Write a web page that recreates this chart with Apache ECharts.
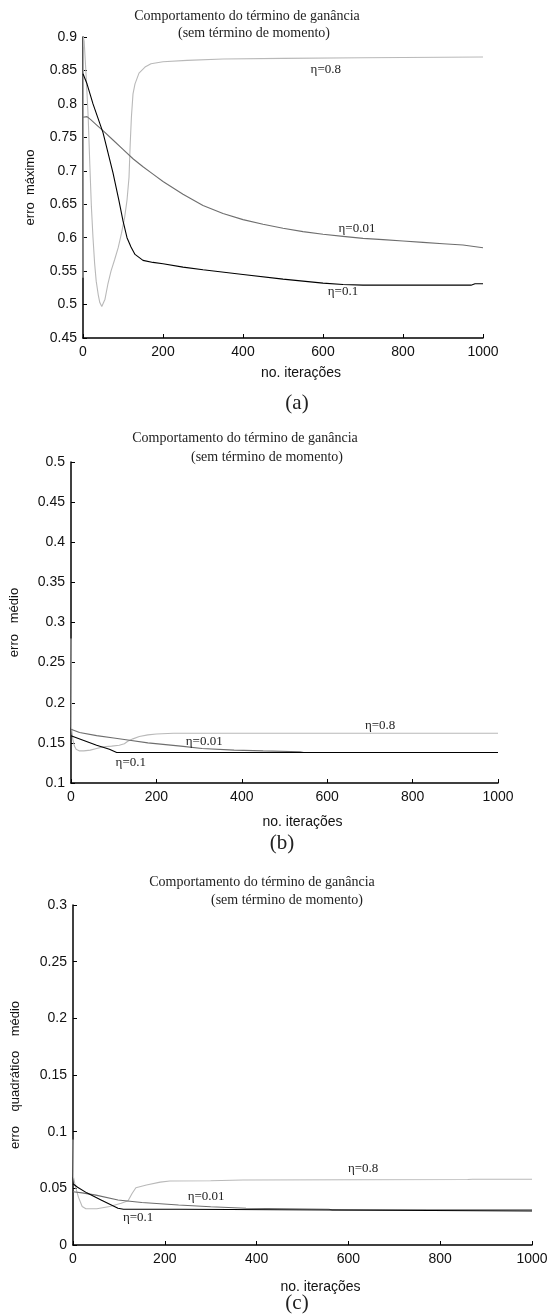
<!DOCTYPE html>
<html>
<head>
<meta charset="utf-8">
<script src="https://cdn.jsdelivr.net/npm/echarts@6/dist/echarts.min.js"></script>
<style>
  html, body { margin: 0; padding: 0; background: #fff; }
  #grafico { width: 560px; height: 1315px; }
</style>
</head>
<body>
<div id="grafico"></div>
<script>
// (a) erro maximo
const a_eta08 = [[0,0.54],[1,0.9],[3,0.893],[8,0.84],[13,0.78],[17,0.71],[21,0.646],[25,0.6],[29,0.562],[33,0.535],[38,0.515],[42,0.503],[47,0.497],[51,0.499],[55,0.508],[62,0.53],[70,0.55],[79,0.567],[88,0.585],[96,0.606],[104,0.63],[110,0.656],[115,0.69],[118,0.74],[121,0.78],[125,0.815],[130,0.83],[140,0.846],[155,0.855],[170,0.86],[200,0.863],[260,0.865],[350,0.867],[500,0.868],[700,0.869],[1000,0.87]]
const a_eta01 = [[0,0.845],[10,0.83],[25,0.8],[50,0.757],[75,0.697],[90,0.655],[100,0.625],[110,0.6],[120,0.586],[130,0.575],[150,0.566],[175,0.563],[200,0.561],[250,0.556],[300,0.552],[400,0.545],[500,0.538],[600,0.532],[650,0.53],[700,0.529],[800,0.529],[900,0.529],[970,0.529],[980,0.531],[1000,0.531]]
const a_eta001 = [[0,0.78],[5,0.782],[10,0.781],[20,0.776],[35,0.768],[50,0.76],[75,0.746],[100,0.732],[125,0.718],[150,0.706],[175,0.695],[200,0.684],[250,0.665],[300,0.648],[350,0.636],[400,0.627],[450,0.62],[500,0.614],[550,0.609],[600,0.605],[650,0.602],[700,0.599],[750,0.597],[800,0.595],[850,0.593],[900,0.591],[950,0.589],[1000,0.585]]

// (b) erro medio
const b_eta08 = [[0,0.28],[1,0.17],[4,0.155],[8,0.146],[12,0.142],[20,0.14],[30,0.14],[45,0.141],[60,0.143],[75,0.145],[95,0.146],[113,0.147],[125,0.149],[133,0.152],[145,0.155],[160,0.158],[180,0.16],[200,0.161],[240,0.162],[1000,0.162]]
const b_eta01 = [[0,0.159],[30,0.153],[60,0.147],[90,0.142],[107,0.138],[1000,0.138]]
const b_eta001 = [[0,0.167],[20,0.163],[60,0.159],[100,0.156],[133,0.1535],[180,0.15],[257,0.146],[307,0.143],[382,0.141],[450,0.14],[536,0.139],[545,0.138],[1000,0.138]]

// (c) erro quadratico medio
const c_eta08 = [[0,0.093],[1,0.06],[5,0.052],[12,0.042],[20,0.034],[28,0.032],[52,0.032],[80,0.034],[105,0.0368],[120,0.039],[129,0.0456],[137,0.0505],[160,0.053],[190,0.0555],[211,0.0565],[300,0.0567],[370,0.0574],[860,0.0578],[870,0.058],[1000,0.058]]
const c_eta01 = [[0,0.054],[10,0.051],[30,0.046],[60,0.04],[98,0.0324],[110,0.0315],[232,0.0315],[235,0.03],[1000,0.03]]
const c_eta001 = [[0,0.047],[20,0.046],[50,0.044],[98,0.0397],[150,0.0375],[230,0.0353],[300,0.0338],[377,0.0324],[557,0.0315],[565,0.031],[1000,0.031]]

// limites dos eixos y: [min, max, intervalo]
const yLimA = [0.45, 0.9, 0.05]
const yLimB = [0.1, 0.5, 0.05]
const yLimC = [0, 0.3, 0.05]
const xLim = [0, 1000, 200]

// rotulos das curvas (posicao em coordenadas dos dados)
const rotulosA = { '0.8': [607, 0.851], '0.01': [685, 0.613], '0.1': [650, 0.52] }
const rotulosB = { '0.8': [724, 0.171], '0.01': [312, 0.151], '0.1': [140, 0.125] }
const rotulosC = { '0.8': [632, 0.067], '0.01': [290, 0.0424], '0.1': [142, 0.0238] }

const sans = 'Liberation Sans'
const serif = 'Liberation Serif'
const cores = { '0.8': '#b9b9b9', '0.01': '#6e6e6e', '0.1': '#000' }

const myChart = echarts.init(document.getElementById('grafico'))

function eixoX(gi, gap) {
	return {
		type: 'value', gridIndex: gi, min: xLim[0], max: xLim[1], interval: xLim[2],
		axisLine: { lineStyle: { color: '#000', width: 1.5 } },
		axisTick: { inside: true, length: 4, lineStyle: { color: '#000' } },
		axisLabel: {
			color: '#111', fontSize: 14, fontFamily: sans, margin: 7,
			formatter: (v) => String(v)
		},
		splitLine: { show: false },
		name: 'no. iterações', nameLocation: 'middle', nameGap: gap,
		nameTextStyle: { color: '#111', fontSize: 14, fontFamily: sans, padding: [0, 0, 0, 36] }
	}
}

function eixoY(gi, lim, nome, gap) {
	return {
		type: 'value', gridIndex: gi, min: lim[0], max: lim[1], interval: lim[2],
		axisLine: { show: true, lineStyle: { color: '#000', width: 1.5 } },
		axisTick: { show: true, inside: true, length: 4, lineStyle: { color: '#000' } },
		axisLabel: {
			color: '#111', fontSize: 14, fontFamily: sans, margin: 6,
			formatter: (v) => String(+v.toFixed(2))
		},
		splitLine: { show: false },
		name: nome, nameLocation: 'middle', nameGap: gap, nameRotate: 90,
		nameTextStyle: { color: '#111', fontSize: 13, fontFamily: sans }
	}
}

function curva(gi, eta, dados, rotulos) {
	return {
		type: 'line', xAxisIndex: gi, yAxisIndex: gi, data: dados,
		showSymbol: false, symbol: 'none', animation: false,
		lineStyle: { color: cores[eta], width: 1.1 },
		z: eta === '0.1' ? 4 : 3,
		markPoint: {
			symbol: 'circle', symbolSize: 0, animation: false,
			label: {
				show: true, position: 'inside', formatter: 'η=' + eta,
				color: '#222', fontSize: 13, fontFamily: serif
			},
			data: [{ coord: rotulos[eta] }]
		}
	}
}

function texto(x, y, t, tam) {
	return {
		type: 'text', x: x, y: y,
		style: { text: t, fill: '#222', font: tam + 'px "' + serif + '"', align: 'center', verticalAlign: 'middle' }
	}
}

const titulo1 = 'Comportamento do término de ganância'
const titulo2 = '(sem término de momento)'

myChart.setOption({
	animation: false,
	grid: [
		{ left: 83, right: 77, top: 37, height: 301 },
		{ left: 68, right: 62, top: 462, height: 321 },
		{ left: 73, right: 28, top: 905, height: 340 }
	],
	xAxis: [eixoX(0, 28), eixoX(1, 32), eixoX(2, 35)],
	yAxis: [
		eixoY(0, yLimA, 'erro  máximo', 46),
		eixoY(1, yLimB, 'erro   médio', 50),
		eixoY(2, yLimC, 'erro    quadrático    médio', 51)
	],
	series: [
		curva(0, '0.8', a_eta08, rotulosA),
		curva(0, '0.01', a_eta001, rotulosA),
		curva(0, '0.1', a_eta01, rotulosA),
		curva(1, '0.8', b_eta08, rotulosB),
		curva(1, '0.01', b_eta001, rotulosB),
		curva(1, '0.1', b_eta01, rotulosB),
		curva(2, '0.8', c_eta08, rotulosC),
		curva(2, '0.01', c_eta001, rotulosC),
		curva(2, '0.1', c_eta01, rotulosC)
	],
	graphic: [
		texto(247, 16, titulo1, 14), texto(254, 33, titulo2, 14), texto(297, 403, '(a)', 21),
		texto(245, 438, titulo1, 14), texto(267, 457, titulo2, 14), texto(282, 843, '(b)', 21),
		texto(262, 882, titulo1, 14), texto(287, 900, titulo2, 14), texto(297, 1303, '(c)', 21)
	]
})

window.addEventListener('resize', () => myChart.resize())
</script>
</body>
</html>
